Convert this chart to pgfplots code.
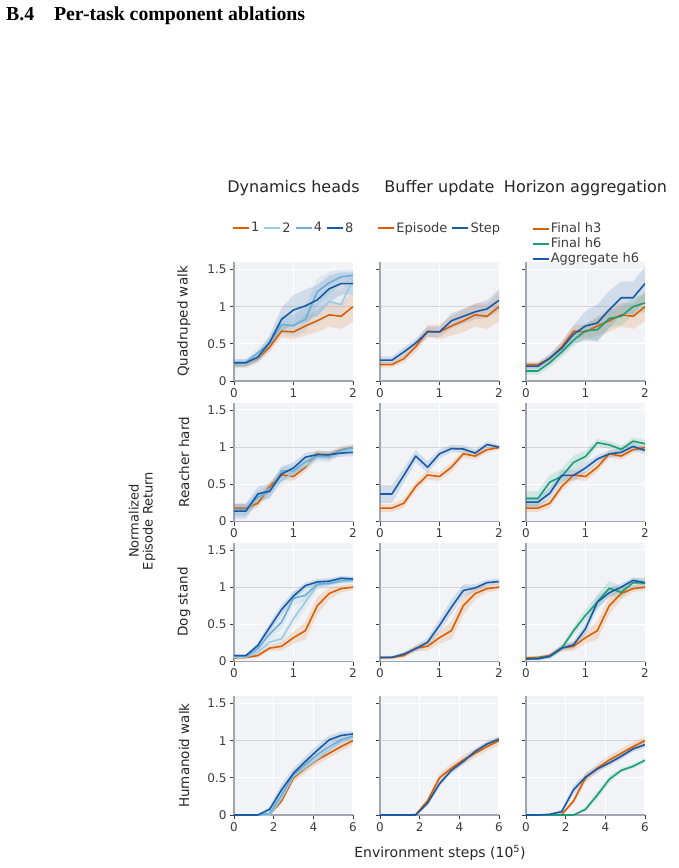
\documentclass[border=0pt]{standalone}
\usepackage{pgfplots}
\pgfplotsset{compat=1.18}
\usepackage{pgfplotstable}
\usepgfplotslibrary{fillbetween}
\usepackage{fontspec}
\setmainfont{DejaVu Sans}
\newfontfamily\headfont{Liberation Serif}

\definecolor{corange}{RGB}{217,95,2}
\definecolor{cgreen}{RGB}{27,158,119}
\definecolor{cdark}{RGB}{24,90,166}
\definecolor{cmid}{RGB}{107,174,214}
\definecolor{clight}{RGB}{158,202,225}
\definecolor{bgc}{RGB}{242,243,246}
\definecolor{axisc}{RGB}{160,165,178}
\definecolor{refc}{RGB}{212,213,216}
\definecolor{txt}{RGB}{60,60,60}

% columns: o = 1 head / episode / final h3 (shared baseline), l = 2 heads,
% m = 4 heads, d = 8 heads, s = step update, g = final h6, a = aggregate h6;
% the *e columns hold the half-width of the shaded band
\pgfplotstableread{
x   o     oe   l     le   m     me   d     de   s     se   g     ge   a    ae
0.0 0.22  0.04 0.22  0.05 0.23  0.05 0.245 0.05 0.28  0.05 0.135 0.05 0.20 0.04
0.2 0.22  0.04 0.22  0.05 0.25  0.05 0.245 0.05 0.28  0.05 0.135 0.05 0.20 0.04
0.4 0.30  0.05 0.31  0.06 0.38  0.06 0.32  0.06 0.39  0.06 0.245 0.06 0.31 0.06
0.6 0.46  0.07 0.51  0.08 0.51  0.08 0.52  0.10 0.51  0.06 0.39  0.07 0.44 0.08
0.8 0.67  0.08 0.74  0.10 0.76  0.12 0.83  0.15 0.66  0.07 0.55  0.08 0.63 0.12
1.0 0.66  0.10 0.74  0.12 0.745 0.15 0.955 0.20 0.66  0.07 0.675 0.10 0.74 0.20
1.2 0.74  0.13 0.89  0.14 0.83  0.17 1.01  0.22 0.81  0.10 0.69  0.15 0.78 0.25
1.4 0.81  0.15 0.89  0.15 1.20  0.18 1.09  0.20 0.87  0.10 0.84  0.12 0.96 0.25
1.6 0.89  0.16 1.07  0.16 1.32  0.15 1.24  0.18 0.93  0.10 0.87  0.12 1.12 0.22
1.8 0.87  0.17 1.03  0.18 1.40  0.10 1.31  0.15 0.97  0.12 1.00  0.12 1.12 0.22
2.0 1.00  0.20 1.36  0.12 1.42  0.08 1.31  0.15 1.085 0.15 1.05  0.12 1.31 0.22
}\quadtab

\pgfplotstableread{
x   o     oe   l     le   m     me   d     de   s     se   g     ge   a     ae
0.0 0.18  0.05 0.16  0.08 0.16  0.08 0.14  0.10 0.37  0.12 0.31  0.10 0.26  0.07
0.2 0.18  0.05 0.16  0.08 0.16  0.08 0.14  0.10 0.37  0.12 0.31  0.10 0.26  0.07
0.4 0.245 0.06 0.30  0.08 0.33  0.08 0.37  0.10 0.62  0.10 0.53  0.10 0.38  0.07
0.6 0.47  0.06 0.44  0.08 0.40  0.08 0.41  0.10 0.88  0.08 0.605 0.10 0.62  0.07
0.8 0.625 0.06 0.55  0.07 0.68  0.07 0.64  0.09 0.73  0.08 0.795 0.09 0.62  0.08
1.0 0.605 0.06 0.65  0.07 0.68  0.07 0.72  0.08 0.91  0.06 0.875 0.08 0.72  0.07
1.2 0.73  0.06 0.75  0.06 0.80  0.06 0.865 0.06 0.98  0.05 1.06  0.05 0.84  0.05
1.4 0.91  0.05 0.86  0.06 0.88  0.06 0.90  0.05 0.975 0.05 1.03  0.05 0.91  0.05
1.6 0.88  0.05 0.86  0.06 0.87  0.06 0.90  0.05 0.92  0.05 0.97  0.05 0.93  0.05
1.8 0.965 0.04 0.94  0.05 0.96  0.05 0.92  0.05 1.035 0.04 1.08  0.05 1.01  0.05
2.0 0.995 0.03 0.98  0.05 0.99  0.05 0.93  0.05 1.00  0.03 1.045 0.05 0.955 0.05
}\reachtab

\pgfplotstableread{
x   o     oe   l     le   m     me   d     de   s     se   g     ge   a     ae
0.0 0.05  0.02 0.06  0.02 0.07  0.02 0.08  0.02 0.055 0.02 0.035 0.02 0.035 0.02
0.2 0.055 0.02 0.06  0.02 0.07  0.02 0.08  0.02 0.055 0.02 0.045 0.02 0.035 0.02
0.4 0.08  0.03 0.125 0.03 0.17  0.04 0.215 0.04 0.10  0.03 0.07  0.03 0.07  0.03
0.6 0.18  0.04 0.26  0.05 0.37  0.07 0.46  0.06 0.17  0.04 0.18  0.04 0.18  0.04
0.8 0.205 0.06 0.305 0.08 0.53  0.10 0.70  0.07 0.26  0.06 0.415 0.06 0.225 0.05
1.0 0.32  0.08 0.575 0.10 0.85  0.10 0.88  0.06 0.485 0.09 0.62  0.08 0.44  0.08
1.2 0.415 0.12 0.80  0.10 0.89  0.08 1.02  0.04 0.73  0.10 0.80  0.10 0.80  0.08
1.4 0.75  0.12 1.02  0.06 1.04  0.05 1.07  0.04 0.955 0.08 0.985 0.10 0.925 0.06
1.6 0.915 0.08 1.045 0.04 1.05  0.04 1.08  0.04 0.99  0.05 0.93  0.08 1.00  0.05
1.8 0.98  0.05 1.07  0.03 1.09  0.03 1.12  0.03 1.06  0.04 1.06  0.06 1.09  0.04
2.0 1.00  0.04 1.08  0.03 1.10  0.03 1.11  0.03 1.075 0.04 1.055 0.08 1.06  0.04
}\dogtab

\pgfplotstableread{
x   o     oe    l     le   m     me   d     de   s     se   g     ge   a     ae
0.0 0     0     0     0    0     0    0     0    0     0    0     0    0     0
0.6 0     0     0     0    0     0    0     0    0     0    0     0    0     0
1.2 0     0     0     0    0     0    0     0    0     0    0     0    0.01  0.005
1.8 0.005 0.005 0     0    0.02  0.01 0.077 0.04 0     0    0     0    0.045 0.03
2.4 0.19  0.04  0.225 0.05 0.27  0.06 0.34  0.08 0.16  0.03 0     0    0.34  0.06
3.0 0.50  0.06  0.52  0.05 0.54  0.06 0.56  0.07 0.42  0.04 0.077 0.03 0.51  0.05
3.6 0.63  0.06  0.64  0.05 0.68  0.06 0.72  0.07 0.60  0.04 0.27  0.05 0.62  0.04
4.2 0.74  0.06  0.75  0.05 0.81  0.06 0.87  0.07 0.72  0.04 0.48  0.05 0.70  0.04
4.8 0.83  0.06  0.88  0.05 0.92  0.05 1.01  0.06 0.855 0.04 0.60  0.03 0.79  0.04
5.4 0.92  0.06  0.99  0.05 1.01  0.05 1.07  0.05 0.955 0.04 0.655 0.03 0.89  0.04
6.0 1.00  0.06  1.04  0.04 1.06  0.04 1.09  0.04 1.02  0.03 0.735 0.03 0.945 0.04
}\humtab

% shaded spread around a mean column
\newcommand{\band}[3]{%
  \addplot[draw=none, forget plot, name path=#2hi] table[x=x, y expr=\thisrow{#2}+\thisrow{#2e}] {#1};
  \addplot[draw=none, forget plot, name path=#2lo] table[x=x, y expr=\thisrow{#2}-\thisrow{#2e}] {#1};
  \addplot[fill=#3, fill opacity=0.15, draw=none, forget plot] fill between[of=#2hi and #2lo];
}
% mean curve
\newcommand{\curve}[3]{%
  \addplot[#3, line width=1.6pt, line join=round] table[x=x, y=#2] {#1};
}

\pgfplotsset{
  panel/.style={
    scale only axis, width=119pt, height=119pt,
    xmin=0, ymin=0, ymax=1.6,
    axis lines*=left,
    axis line style={draw=axisc, line width=1.8pt},
    ytick={0,0.5,1.5},
    extra y ticks={1},
    extra y tick style={major grid style={draw=refc, line width=1.2pt}},
    grid=major,
    major grid style={draw=white, line width=1pt},
    axis background/.style={fill=bgc},
    tick align=outside, major tick length=4pt,
    tick style={draw=txt, line width=0.8pt},
    tick label style={font=\fontsize{12}{12}\selectfont, text=txt},
    /pgf/number format/assume math mode=true,
    legend image code/.code={\draw[##1] (0pt,0pt) -- (16pt,0pt);},
  },
  short/.style={xmax=2, xtick={0,1,2}},
  long/.style={xmax=6, xtick={0,2,4,6}},
  inner/.style={yticklabels={}, extra y tick labels={}},
  hlegend/.style={legend style={at={(0.5,1.286)}, anchor=center, draw=none, fill=none,
      inner sep=0pt, legend columns=-1,
      font=\fontsize{13}{13}\selectfont, text=txt,
      nodes={inner sep=1.5pt},
      /tikz/every even column/.append style={column sep=2.5pt}}},
}

\begin{document}
\begin{tikzpicture}
\path (0,0) rectangle (678pt,-868pt);

\node[anchor=base west, inner sep=0pt] at (6pt,-20pt)
  {\headfont\bfseries\fontsize{19.8}{19.8}\selectfont B.4\hspace{1em}Per-task component ablations};

% column titles
\begin{scope}[every node/.style={font=\fontsize{16}{16}\selectfont, text=black!85}]
\node at (293.5pt,-188pt) {Dynamics heads};
\node at (439.5pt,-188pt) {Buffer update};
\node at (585.5pt,-188pt) {Horizon aggregation};
\end{scope}

% row titles
\begin{scope}[every node/.style={rotate=90, font=\fontsize{13.5}{13.5}\selectfont, text=black!85}]
\node at (184pt,-321.5pt) {Quadruped walk};
\node at (184pt,-462pt) {Reacher hard};
\node at (184pt,-602pt) {Dog stand};
\node at (184pt,-755.5pt) {Humanoid walk};
\end{scope}

\node[rotate=90, align=center, font=\fontsize{13}{14}\selectfont, text=black!85] at (142pt,-521pt)
  {Normalized\\Episode Return};
\node[font=\fontsize{14}{14}\selectfont, text=black!85] at (440pt,-853pt)
  {Environment steps (10\textsuperscript{5})};

% ---------- Quadruped walk ----------
\begin{axis}[panel, short, hlegend, at={(234pt,-381pt)}, anchor=south west]
\band{\quadtab}{o}{corange}
\band{\quadtab}{l}{clight}
\band{\quadtab}{m}{cmid}
\band{\quadtab}{d}{cdark}
\curve{\quadtab}{o}{corange} \addlegendentry{1}
\curve{\quadtab}{l}{clight}  \addlegendentry{2}
\curve{\quadtab}{m}{cmid}    \addlegendentry{4}
\curve{\quadtab}{d}{cdark}   \addlegendentry{8}
\end{axis}

\begin{axis}[panel, short, inner, hlegend, at={(380pt,-381pt)}, anchor=south west]
\band{\quadtab}{o}{corange}
\band{\quadtab}{s}{cdark}
\curve{\quadtab}{o}{corange} \addlegendentry{Episode}
\curve{\quadtab}{s}{cdark}   \addlegendentry{Step}
\end{axis}

\begin{axis}[panel, short, inner, at={(526pt,-381pt)}, anchor=south west,
  legend style={at={(0.05,1.336)}, anchor=north west, draw=none, fill=none, inner sep=0pt,
    legend cell align=left, font=\fontsize{13}{13}\selectfont, text=txt,
    nodes={inner sep=1pt, text height=9.5pt, text depth=2.5pt}, row sep=1pt}]
\band{\quadtab}{o}{corange}
\band{\quadtab}{g}{cgreen}
\band{\quadtab}{a}{cdark}
\curve{\quadtab}{o}{corange} \addlegendentry{Final h3}
\curve{\quadtab}{g}{cgreen}  \addlegendentry{Final h6}
\curve{\quadtab}{a}{cdark}   \addlegendentry{Aggregate h6}
\end{axis}

% ---------- Reacher hard ----------
\begin{axis}[panel, short, at={(234pt,-521.5pt)}, anchor=south west]
\band{\reachtab}{o}{corange}
\band{\reachtab}{l}{clight}
\band{\reachtab}{m}{cmid}
\band{\reachtab}{d}{cdark}
\curve{\reachtab}{o}{corange}
\curve{\reachtab}{l}{clight}
\curve{\reachtab}{m}{cmid}
\curve{\reachtab}{d}{cdark}
\end{axis}

\begin{axis}[panel, short, inner, at={(380pt,-521.5pt)}, anchor=south west]
\band{\reachtab}{o}{corange}
\band{\reachtab}{s}{cdark}
\curve{\reachtab}{o}{corange}
\curve{\reachtab}{s}{cdark}
\end{axis}

\begin{axis}[panel, short, inner, at={(526pt,-521.5pt)}, anchor=south west]
\band{\reachtab}{o}{corange}
\band{\reachtab}{g}{cgreen}
\band{\reachtab}{a}{cdark}
\curve{\reachtab}{o}{corange}
\curve{\reachtab}{g}{cgreen}
\curve{\reachtab}{a}{cdark}
\end{axis}

% ---------- Dog stand ----------
\begin{axis}[panel, short, at={(234pt,-661.5pt)}, anchor=south west]
\band{\dogtab}{o}{corange}
\band{\dogtab}{l}{clight}
\band{\dogtab}{m}{cmid}
\band{\dogtab}{d}{cdark}
\curve{\dogtab}{o}{corange}
\curve{\dogtab}{l}{clight}
\curve{\dogtab}{m}{cmid}
\curve{\dogtab}{d}{cdark}
\end{axis}

\begin{axis}[panel, short, inner, at={(380pt,-661.5pt)}, anchor=south west]
\band{\dogtab}{o}{corange}
\band{\dogtab}{s}{cdark}
\curve{\dogtab}{o}{corange}
\curve{\dogtab}{s}{cdark}
\end{axis}

\begin{axis}[panel, short, inner, at={(526pt,-661.5pt)}, anchor=south west]
\band{\dogtab}{o}{corange}
\band{\dogtab}{g}{cgreen}
\band{\dogtab}{a}{cdark}
\curve{\dogtab}{o}{corange}
\curve{\dogtab}{g}{cgreen}
\curve{\dogtab}{a}{cdark}
\end{axis}

% ---------- Humanoid walk ----------
\begin{axis}[panel, long, at={(234pt,-815pt)}, anchor=south west]
\band{\humtab}{o}{corange}
\band{\humtab}{l}{clight}
\band{\humtab}{m}{cmid}
\band{\humtab}{d}{cdark}
\curve{\humtab}{o}{corange}
\curve{\humtab}{l}{clight}
\curve{\humtab}{m}{cmid}
\curve{\humtab}{d}{cdark}
\end{axis}

\begin{axis}[panel, long, inner, at={(380pt,-815pt)}, anchor=south west]
\band{\humtab}{o}{corange}
\band{\humtab}{s}{cdark}
\curve{\humtab}{o}{corange}
\curve{\humtab}{s}{cdark}
\end{axis}

\begin{axis}[panel, long, inner, at={(526pt,-815pt)}, anchor=south west]
\band{\humtab}{o}{corange}
\band{\humtab}{g}{cgreen}
\band{\humtab}{a}{cdark}
\curve{\humtab}{o}{corange}
\curve{\humtab}{g}{cgreen}
\curve{\humtab}{a}{cdark}
\end{axis}

\pgfresetboundingbox
\useasboundingbox (0,0) rectangle (678pt,-868pt);
\end{tikzpicture}
\end{document}
